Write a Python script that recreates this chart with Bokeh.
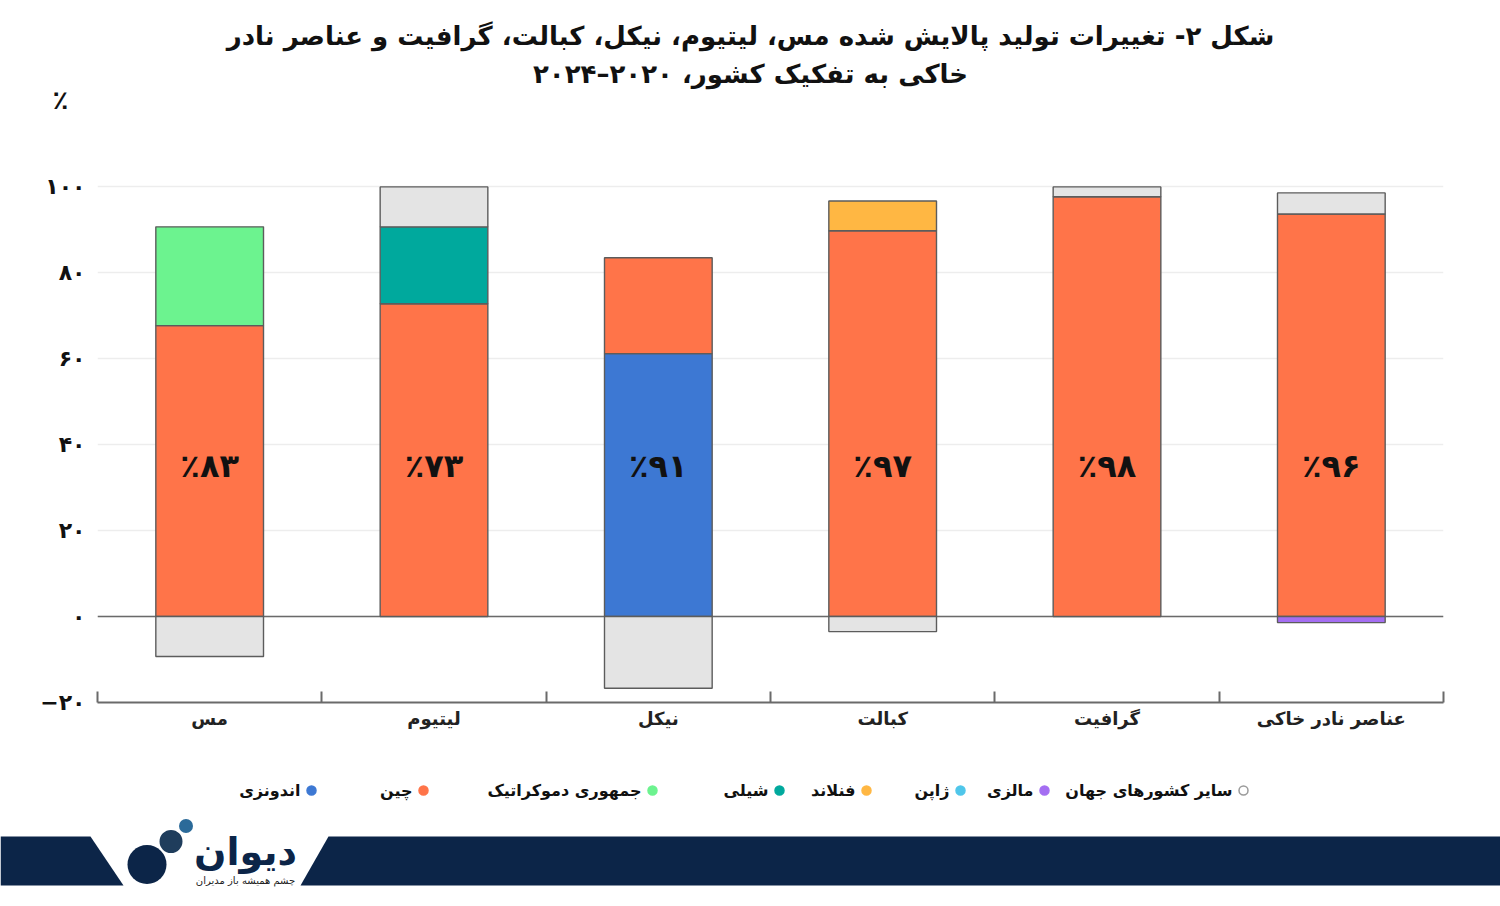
from bokeh.plotting import figure
from bokeh.layouts import column
from bokeh.models import (Range1d, FixedTicker, Span, ColumnDataSource)
from bokeh.core.properties import value
from bokeh.embed import file_html
from bokeh.resources import INLINE

# ---------------- data ----------------
categories = ["مس", "لیتیوم", "نیکل", "کبالت", "گرافیت", "عناصر نادر خاکی"]
indonesia = [0, 0, 61.2, 0, 0, 0]
china = [67.7, 72.8, 22.3, 89.8, 97.7, 93.7]
drc = [23.0, 0, 0, 0, 0, 0]
chile = [0, 17.9, 0, 0, 0, 0]
finland = [0, 0, 0, 6.9, 0, 0]
japan = [0, 0, 0, 0, 0, 0]
malaysia = [0, 0, 0, 0, 0, -1.4]
others = [-9.3, 9.3, -16.7, -3.5, 2.3, 4.9]
share_labels = [83, 73, 91, 97, 98, 96]
y_ticks = [-20, 0, 20, 40, 60, 80, 100]

series_names = ["اندونزی", "چین", "جمهوری دموکراتیک", "شیلی", "فنلاند", "ژاپن", "مالزی", "سایر کشورهای جهان"]
series_values = [indonesia, china, drc, chile, finland, japan, malaysia, others]
series_colors = ["#3d78d3", "#ff7449", "#6cf38f", "#00a99d", "#ffb743", "#4fc6ea", "#a46ef2", "#e4e4e4"]

title_line1 = "شکل ۲- تغییرات تولید پالایش شده مس، لیتیوم، نیکل، کبالت، گرافیت و عناصر نادر"
title_line2 = "خاکی به تفکیک کشور، ۲۰۲۰–۲۰۲۴"

FONT = "DejaVu Sans"
FA_DIGITS = "۰۱۲۳۴۵۶۷۸۹"


def fa(n):
    s = str(n)
    out = "".join(FA_DIGITS[int(c)] if c.isdigit() else c for c in s)
    return out.replace("-", "−")


W = 1500
FRAME_L, FRAME_R = 97, 1443

# category positions on a numeric axis (one unit per category)
cat_pos = list(range(len(categories)))
boundaries = [c - 0.5 for c in cat_pos] + [cat_pos[-1] + 0.5]

# ---------------- stacked segments ----------------
seg = dict(x=[], bottom=[], top=[], color=[])
for i, xpos in enumerate(cat_pos):
    pos_base = 0.0
    neg_base = 0.0
    for vals, col in zip(series_values, series_colors):
        v = vals[i]
        if v > 0:
            seg["x"].append(xpos); seg["bottom"].append(pos_base)
            seg["top"].append(pos_base + v); seg["color"].append(col)
            pos_base += v
        elif v < 0:
            seg["x"].append(xpos); seg["top"].append(neg_base)
            seg["bottom"].append(neg_base + v); seg["color"].append(col)
            neg_base += v
src = ColumnDataSource(seg)


def blank(height):
    f = figure(width=W, height=height, x_range=Range1d(0, W),
               y_range=Range1d(height, 0), output_backend="svg",
               toolbar_location=None, min_border=0,
               x_axis_location=None, y_axis_location=None)
    f.grid.visible = False
    f.outline_line_color = None
    try:
        f.frame_align = False
    except AttributeError:
        pass
    return f


# ---------------- title figure ----------------
TH = 118
t = blank(TH)
t.text(x=[750, 750], y=[35, 73], text=[title_line1, title_line2],
       text_align="center", text_baseline="middle",
       text_font=value(FONT), text_font_style="bold", text_font_size="26px",
       text_color="#111111")
t.text(x=[60], y=[99], text=["٪"], text_align="center", text_baseline="middle",
       text_font=value(FONT), text_font_style="bold", text_font_size="26px",
       text_color="#111111")

# ---------------- main chart ----------------
p = figure(x_range=Range1d(boundaries[0], boundaries[-1]), y_range=Range1d(-20, 108),
           width=W, height=627, output_backend="svg", toolbar_location=None,
           min_border_left=FRAME_L, min_border_right=W - FRAME_R,
           min_border_top=34, min_border_bottom=43)
p.outline_line_color = None
p.xgrid.visible = False

p.yaxis.ticker = FixedTicker(ticks=y_ticks)
p.yaxis.major_label_overrides = {t_: fa(t_) for t_ in y_ticks}
p.yaxis.axis_line_color = None
p.yaxis.major_tick_line_color = None
p.yaxis.minor_tick_line_color = None
p.yaxis.major_tick_in = 0
p.yaxis.major_tick_out = 0
p.yaxis.minor_tick_in = 0
p.yaxis.minor_tick_out = 0
p.yaxis.major_label_text_font = FONT
p.yaxis.major_label_text_font_style = "bold"
p.yaxis.major_label_text_font_size = "22px"
p.yaxis.major_label_text_color = "#111111"
p.yaxis.major_label_standoff = 12
p.ygrid.grid_line_color = "#ededed"
p.ygrid.grid_line_width = 1.5

p.xaxis.ticker = FixedTicker(ticks=cat_pos, minor_ticks=boundaries)
p.xaxis.major_label_overrides = {c: n for c, n in zip(cat_pos, categories)}
p.xaxis.major_tick_in = 0
p.xaxis.major_tick_out = 0
p.xaxis.major_tick_line_color = None
p.xaxis.minor_tick_in = 11
p.xaxis.minor_tick_out = 0
p.xaxis.minor_tick_line_color = "#6a6a6a"
p.xaxis.minor_tick_line_width = 2
p.xaxis.axis_line_color = "#6a6a6a"
p.xaxis.axis_line_width = 2
p.xaxis.major_label_text_font = FONT
p.xaxis.major_label_text_font_style = "bold"
p.xaxis.major_label_text_font_size = "18px"
p.xaxis.major_label_text_color = "#222222"
p.xaxis.major_label_standoff = 5

p.add_layout(Span(location=0, dimension="width", line_color="#6a6a6a",
                  line_width=1.5, level="underlay"))

p.vbar(x="x", bottom="bottom", top="top", width=0.48, fill_color="color",
       line_color="#5c5c5c", line_width=1.4, source=src)

label_y = 35
p.text(x=cat_pos, y=[label_y] * len(categories),
       text=["٪" + fa(v) for v in share_labels],
       text_align="center", text_baseline="middle",
       text_font=value(FONT), text_font_style="bold", text_font_size="32px",
       text_color="#111111")

# ---------------- legend + footer ----------------
BH = 155
b = blank(BH)

legend_marker_x = [311, 423, 652, 779, 866, 960, 1044, 1243]
legend_y = 45
fills = [c if n != "سایر کشورهای جهان" else "#ffffff" for n, c in zip(series_names, series_colors)]
lines = [c if n != "سایر کشورهای جهان" else "#9a9a9a" for n, c in zip(series_names, series_colors)]
b.scatter(x=legend_marker_x, y=[legend_y] * len(series_names), size=9,
          fill_color=fills, line_color=lines, line_width=1.5)
b.text(x=[mx - 11 for mx in legend_marker_x], y=[legend_y] * len(series_names),
       text=series_names, text_align="right", text_baseline="middle",
       text_font=value(FONT), text_font_style="bold", text_font_size="16px",
       text_color="#111111")

navy = "#0c2548"
b.patches(xs=[[0, 90, 123, 0], [328, W, W, 300]],
          ys=[[91, 91, 140, 140], [91, 91, 140, 140]],
          fill_color=navy, line_color=None)
b.scatter(x=[146.5, 170.5, 185.5], y=[119, 96, 80.5], size=[39, 23, 14],
          fill_color=[navy, "#1f3d5c", "#2b6a99"], line_color=None)
b.text(x=[245], y=[106], text=["دیوان"], text_align="center", text_baseline="middle",
       text_font=value(FONT), text_font_style="bold", text_font_size="38px",
       text_color=navy)
b.text(x=[245], y=[135], text=["چشم همیشه باز مدیران"], text_align="center",
       text_baseline="middle", text_font=value(FONT), text_font_size="10px",
       text_color="#222222")

layout = column(t, p, b, spacing=0)
open("out.html", "w").write(file_html(layout, INLINE))
